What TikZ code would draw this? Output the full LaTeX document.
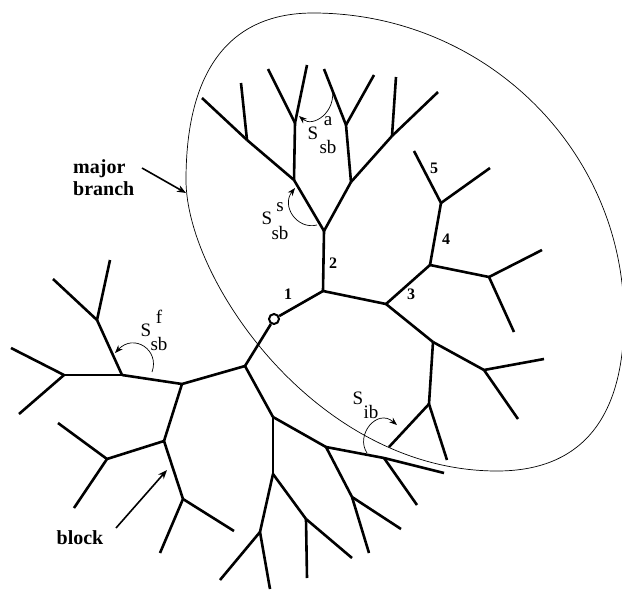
\documentclass[tikz,border=0pt]{standalone}
\usepackage{fontspec}
\setmainfont{Liberation Serif}
\usetikzlibrary{arrows.meta}

\begin{document}
\begin{tikzpicture}[
  x=1pt,y=-1pt,
  branch/.style={draw=black,line width=2.6pt},
  hull/.style={draw=black,line width=0.7pt},
  pointer/.style={draw=black,line width=1.6pt,-{Stealth[length=9pt,width=7pt]}},
  turn/.style={draw=black,line width=0.7pt,-{Stealth[length=8pt,width=6pt]}},
  num/.style={font=\fontsize{16}{18}\selectfont\bfseries,inner sep=0pt},
  tag/.style={font=\fontsize{20}{22}\selectfont\bfseries,align=left,inner sep=0pt},
  sym/.style={font=\fontsize{19}{20}\selectfont,inner sep=0pt},
]
\useasboundingbox (0,0) rectangle (622,590);

% outline of the major branch
\draw[hull] (313,13) .. controls (485,13) and (624,150) .. (624,318)
  .. controls (624,420) and (580,471) .. (497,471)
  .. controls (317,471) and (186,280) .. (186,180)
  .. controls (186,70) and (230,13) .. cycle;

% branch points and tips
\foreach \n/\x/\y in {
  n1/323/291, n2/324/231, sl/294/180, sll/247/140, sll1/202/98, sll2/241/83,
  slu/295/123, slu1/268/69, slu2/307/65, sr/351/182, sru/346/125,
  sru1/324/69, sru2/374/75, srr/392/136, srr1/438/92, srr2/396/77,
  n3/386/304, n4/430/265, n5/441/203, n5a/414/151, n5b/490/168,
  ra/489/277, ra1/542/250, ra2/514/332, rb/433/342, rc/484/370,
  rc1/544/359, rc2/518/419, rd/429/404, rd1/389/447, rd2/447/460,
  j/245/366, k/182/384, fa/122/375, fb/64/375, fb1/11/348, fb2/19/414,
  fc/97/320, fc1/53/279, fc2/110/260, ka/164/441, kb/107/459,
  kb1/58/423, kb2/74/508, kc/183/499, kc1/160/553, kc2/234/531,
  ja/273/417, jb/326/447, jc/384/458, jc0/444/473, jc1/417/505,
  jd/352/497, jd1/401/529, jd2/369/553, je/273/474, jf/306/519,
  jf1/307/578, jf2/352/558, jg/260/532, jg1/270/589, jg2/220/580}
  \coordinate (\n) at (\x,\y);

\node[draw,circle,line width=2pt,minimum size=10pt,inner sep=0pt] (root) at (274,319) {};

\foreach \a/\b in {
  root/n1, n1/n2, n2/sl, n2/sr, sl/sll, sll/sll1, sll/sll2, sl/slu,
  slu/slu1, slu/slu2, sr/sru, sru/sru1, sru/sru2, sr/srr, srr/srr1,
  srr/srr2, n1/n3, n3/n4, n4/n5, n5/n5a, n5/n5b, n4/ra, ra/ra1, ra/ra2,
  n3/rb, rb/rc, rc/rc1, rc/rc2, rb/rd, rd/rd1, rd/rd2,
  root/j, j/k, k/fa, fa/fb, fb/fb1, fb/fb2, fa/fc, fc/fc1, fc/fc2,
  k/ka, ka/kb, kb/kb1, kb/kb2, ka/kc, kc/kc1, kc/kc2,
  j/ja, ja/jb, jb/jc, jc/jc0, jc/jc1, jb/jd, jd/jd1, jd/jd2,
  ja/je, je/jf, jf/jf1, jf/jf2, je/jg, jg/jg1, jg/jg2}
  \draw[branch] (\a) -- (\b);

% segment numbers
\node[num] (lab1) at (288,294) {1};
\node[num] (lab2) at (333,263) {2};
\node[num] (lab3) at (411,294) {3};
\node[num] (lab4) at (446,239) {4};
\node[num] (lab5) at (434,168) {5};

% angles
\node[sym] (sa) at (313,133) {S};
\node[sym] (sa-up) at (328,121) {a};
\node[sym] (sa-dn) at (328,147) {sb};
\draw[turn] (332,88) .. controls (337,112) and (313,128) .. (299,116);

\node[sym] (ss) at (267,218) {S};
\node[sym] (ss-up) at (280,207) {s};
\node[sym] (ss-dn) at (280,233) {sb};
\draw[turn] (317,225) .. controls (297,230) and (281,206) .. (295,188);

\node[sym] (sf) at (146,330) {S};
\node[sym] (sf-up) at (159,317) {f};
\node[sym] (sf-dn) at (159,344) {sb};
\draw[turn] (152,372) .. controls (160,350) and (134,333) .. (115,353);

\node[sym] (si) at (358,398) {S};
\node[sym] (si-dn) at (371,412) {ib};
\draw[turn] (367,453) .. controls (355,435) and (377,408) .. (397,425);

% callouts
\node[tag,anchor=west] (major) at (73,178) {major\\branch};
\coordinate (mbtail) at (142,168);
\coordinate (mbtip) at (186,193);
\draw[pointer] (mbtail) -- (mbtip);

\node[tag] (block) at (80,538) {block};
\coordinate (bktail) at (116,528);
\coordinate (bktip) at (167,470);
\draw[pointer] (bktail) -- (bktip);
\end{tikzpicture}
\end{document}
